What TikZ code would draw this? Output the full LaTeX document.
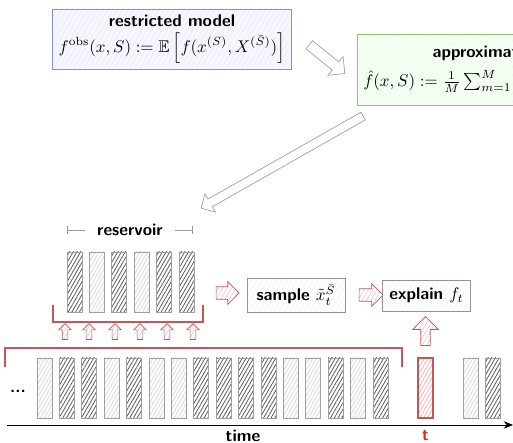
\documentclass[tikz,border=0pt]{standalone}
\usepackage{amsmath,amssymb}
\usetikzlibrary{shapes.arrows, arrows.meta, patterns.meta, positioning}

\definecolor{lineblue}{RGB}{118,152,206}
\definecolor{linegreen}{RGB}{140,196,110}
\definecolor{linered}{RGB}{196,86,86}
\definecolor{tred}{RGB}{214,42,24}

\begin{document}
\begin{tikzpicture}[x=0.59pt, y=-0.59pt]
    \tikzset{
        box/.style = {rectangle, draw=gray!85, thin, inner sep=4pt, align=center, font=\sffamily\bfseries,
                      preaction={fill=white}, pattern={Lines[angle=60,distance=2.6pt,line width=0.3pt]}, pattern color=gray!12},
        bluebox/.style = {box, draw=lineblue, preaction={fill=blue!3}, pattern color=blue!9, inner sep=3.5pt},
        greenbox/.style = {box, draw=linegreen, preaction={fill=green!3}, pattern color=green!14, inner sep=3.5pt},
        slot/.style = {rectangle, draw=gray!75, thin, minimum width=8.85pt, minimum height=35.4pt, inner sep=0pt,
                       pattern={Lines[angle=60,distance=1.9pt,line width=0.5pt]}},
        slotD/.style = {slot, pattern color=black!62},
        slotL/.style = {slot, pattern color=gray!28},
        slotT/.style = {slot, draw=linered, thick, pattern color=linered!40},
        grayarrow/.style = {single arrow, draw=gray!75, fill=white, thin, inner sep=0pt, single arrow tip angle=90},
        redarrow/.style = {single arrow, draw=linered, thin, inner sep=0pt, single arrow tip angle=90,
                           preaction={fill=white}, pattern={Lines[angle=60,distance=2.2pt,line width=0.35pt]}, pattern color=linered!35},
        bracket/.style = {draw=linered, thick},
        label/.style = {font=\sffamily\bfseries, text=black}
    }

    \clip (0,0) rectangle (513,443);

    % models
    \node[bluebox](restricted) at (172,39)
        {restricted model\\[3pt] $f^{\mathrm{obs}}(x,S) := \mathbb{E}\left[f(x^{(S)},X^{(\bar{S})})\right]$};
    \node[greenbox, anchor=west, minimum height=41.9pt](approx) at (357,69.5)
        {approximation\\[3pt] $\hat{f}(x,S) := \frac{1}{M}\sum_{m=1}^{M} f(x^{(S)},X_m^{(\bar{S})})$};

    \coordinate (a1) at (307,43);
    \coordinate (a2) at (343,72);
    \path (a1) -- (a2) node[midway, sloped, allow upside down, grayarrow, minimum height=27pt,
        minimum width=14pt, single arrow head extend=4pt, inner ysep=2.9pt](topArrow){};

    \coordinate (b1) at (365,115);
    \coordinate (b2) at (203,207);
    \path (b1) -- (b2) node[midway, sloped, allow upside down, grayarrow, minimum height=110pt,
        minimum width=12pt, single arrow head extend=3.6pt, inner ysep=2.4pt](downArrow){};

    % reservoir
    \foreach \p [count=\k] in {D,L,D,L,D,D}
        \node[slot\p](r\k) at ({74.5+22.4*(\k-1)},282){};

    \draw[gray!80, thin, {Bar[width=4.5pt]}-{Bar[width=4.5pt]}] (67,230) -- (193,230)
        node[midway, label, fill=white, inner xsep=7pt](reservoir){reservoir};

    \draw[bracket] (53,305) |- (203,322) -- (203,305);

    \foreach \xx [count=\k] in {65,89,115,140,167,193}
        \node[redarrow, rotate=90, minimum height=9.4pt, minimum width=7pt, single arrow head extend=2pt,
            inner ysep=1.5pt](up\k) at (\xx,333){};

    % sampling and explanation
    \node[redarrow, minimum height=13.6pt, minimum width=13pt, single arrow head extend=3pt,
        inner ysep=3.5pt](toSample) at (224.5,293){};
    \node[box, minimum width=57.8pt, minimum height=18.9pt](sample) at (296,295){sample $\tilde{x}_t^{\bar{S}}$};
    \node[redarrow, minimum height=14.2pt, minimum width=13pt, single arrow head extend=3pt,
        inner ysep=3.5pt](toExplain) at (368,295){};
    \node[box, minimum width=46.6pt, minimum height=18.3pt](explain) at (426.5,295.5){explain $f_t$};
    \node[redarrow, rotate=90, minimum height=17pt, minimum width=14.8pt, single arrow head extend=4.75pt,
        inner ysep=2.65pt](upExplain) at (425.5,333.5){};

    % stream
    \draw[bracket] (5,367) |- (402,348) -- (402,367);

    \foreach \p [count=\k] in {L,D,D,L,D,L,L,D,D,D,D,L,L,D,L,D}
        \node[slot\p](s\k) at ({44.5+22.4*(\k-1)},388){};

    \node[slotT](current) at (425.5,388){};
    \node[slotL](next1) at (470.5,388){};
    \node[slotD](next2) at (492.5,388){};

    \node[label](dots) at (18,391){...};

    \draw[thin, -{Stealth[length=5.5pt,width=4.5pt]}] (7,425) -- (513,425);
    \node[label](time) at (243,436){time};
    \node[label, text=tred](tlabel) at (425.5,436){t};
\end{tikzpicture}
\end{document}
